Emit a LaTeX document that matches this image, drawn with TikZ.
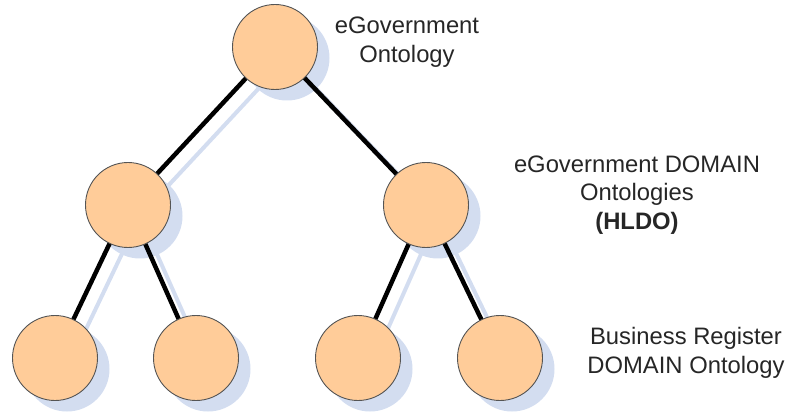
\documentclass[tikz,border=0pt]{standalone}
\usepackage{fontspec}
\setmainfont{Liberation Sans}
\definecolor{peach}{HTML}{FFCC99}
\definecolor{shadowblue}{HTML}{D3DDF0}
\definecolor{rim}{HTML}{555555}
\begin{document}
\begin{tikzpicture}[x=1pt,y=-1pt,
  ball/.style={circle,draw=rim,line width=0.9pt,fill=peach,minimum size=85pt,inner sep=0pt},
  edge/.style={line width=4.5pt,black},
  shadowline/.style={line width=4pt,shadowblue},
  lbl/.style={align=center,inner sep=0pt,anchor=base,font=\fontsize{23.8}{29}\selectfont,text=black!85}]
\useasboundingbox (0,0) rectangle (790,414);
% node positions
\path (275,47) coordinate (pt) (128,205) coordinate (pl) (426,205) coordinate (pr)
      (55,358) coordinate (pll) (196,358) coordinate (plr) (358,358) coordinate (prl) (500,358) coordinate (prr);
% shadows
\foreach \a/\b in {pt/pl,pt/pr,pl/pll,pl/plr,pr/prl,pr/prr}
  \draw[shadowline] ([shift={(12,11)}]\a) -- ([shift={(12,11)}]\b);
\foreach \a in {pt,pl,pr,pll,plr,prl,prr}
  \fill[shadowblue] ([shift={(12,11)}]\a) circle (42.5);
% edges
\foreach \a/\b in {pt/pl,pt/pr,pl/pll,pl/plr,pr/prl,pr/prr}
  \draw[edge] (\a) -- (\b);
% circles
\node[ball] (t) at (pt) {};
\node[ball] (l) at (pl) {};
\node[ball] (r) at (pr) {};
\node[ball] (ll) at (pll) {};
\node[ball] (lr) at (plr) {};
\node[ball] (rl) at (prl) {};
\node[ball] (rr) at (prr) {};
% labels (base anchor = last line's baseline)
\node[lbl] (lt) at (407,63) {eGovernment\\Ontology};
\node[lbl] (lm) at (637,230) {eGovernment DOMAIN\\Ontologies\\\textbf{(HLDO)}};
\node[lbl] (lb) at (686,373) {Business Register\\DOMAIN Ontology};
\end{tikzpicture}
\end{document}
